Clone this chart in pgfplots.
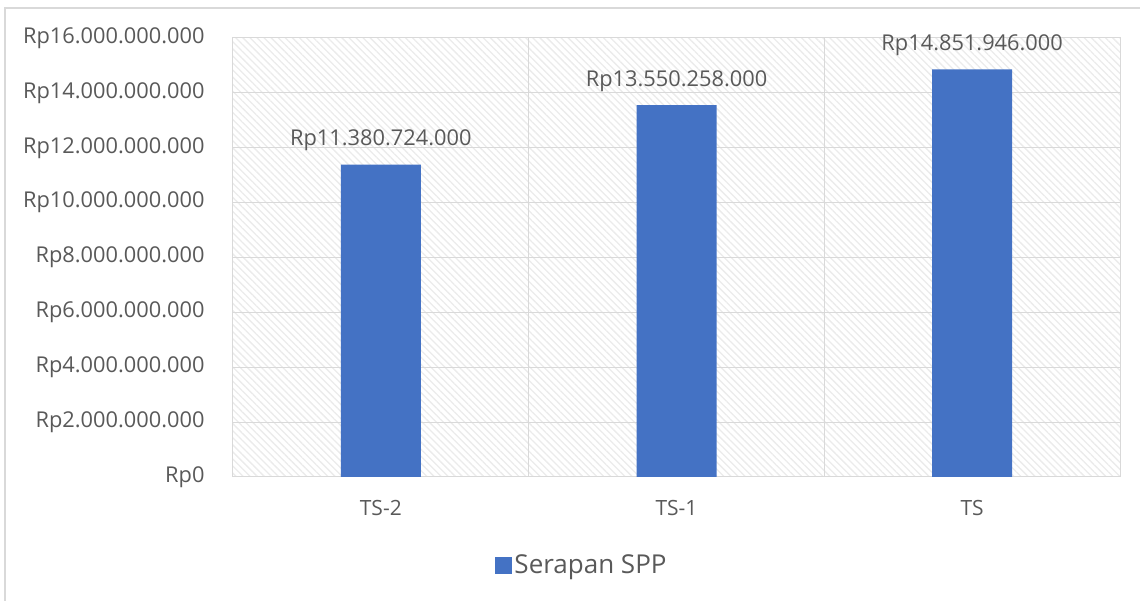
\documentclass[border=0pt]{standalone}
\usepackage{pgfplots}
\pgfplotsset{compat=1.18}
\usetikzlibrary{patterns.meta}
\usepackage{fontspec}
\setmainfont{Open Sans}
\definecolor{barblue}{HTML}{4472C4}
\definecolor{txt}{HTML}{595959}
\definecolor{gridc}{HTML}{D9D9D9}
\begin{document}
\begin{tikzpicture}
\path[use as bounding box] (-233pt,-124pt) rectangle (907pt,477pt);
\begin{axis}[
  scale only axis,
  width=887pt, height=439pt,
  /pgf/number format/assume math mode=true,
  ybar, bar width=80pt,
  xmin=-0.5, xmax=2.5,
  ymin=0, ymax=16000000000,
  xtick={0,1,2},
  xticklabels={TS-2,TS-1,TS},
  minor xtick={0.5,1.5},
  ytick={0,2000000000,4000000000,6000000000,8000000000,10000000000,12000000000,14000000000,16000000000},
  yticklabels={Rp0,Rp2.000.000.000,Rp4.000.000.000,Rp6.000.000.000,Rp8.000.000.000,Rp10.000.000.000,Rp12.000.000.000,Rp14.000.000.000,Rp16.000.000.000},
  scaled y ticks=false,
  major tick length=0pt, minor tick length=0pt,
  ymajorgrids, xminorgrids,
  grid style={gridc, line width=1pt},
  minor grid style={gridc, line width=1pt},
  axis line style={gridc, line width=1pt},
  axis background/.style={pattern={Lines[angle=-45,distance=5pt,line width=1.3pt]}, pattern color=black!8},
  yticklabel style={font=\fontsize{21.8}{26}\selectfont, text=txt, anchor=east, xshift=-25pt},
  xticklabel style={font=\fontsize{21}{25}\selectfont, text=txt, yshift=-20pt},
  nodes near coords,
  point meta=explicit symbolic,
  nodes near coords style={font=\fontsize{21.8}{26}\selectfont, text=txt, anchor=south, yshift=10pt},
  legend style={draw=none, fill=none, at={(0.3935,-0.2005)}, anchor=center,
    font=\fontsize{26}{31}\selectfont, text=txt},
  legend image code/.code={\fill[barblue] (0pt,-8.5pt) rectangle (17pt,8.5pt);},
]
\addplot[fill=barblue, draw=none] coordinates {
  (0,11380724000) [Rp11.380.724.000]
  (1,13550258000) [Rp13.550.258.000]
  (2,14851946000) [Rp14.851.946.000]
};
\addlegendentry{Serapan SPP}
\end{axis}
\draw[gridc, line width=1.5pt] (-228pt,-130pt) -- (-228pt,469pt) -- (915pt,469pt);
\end{tikzpicture}
\end{document}
